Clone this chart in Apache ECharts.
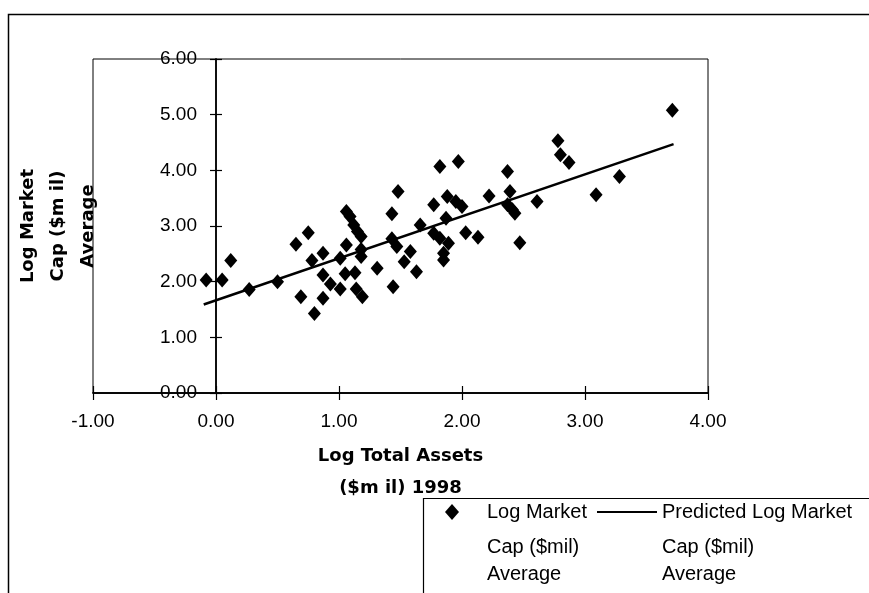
<!DOCTYPE html>
<html>
<head>
<meta charset="utf-8">
<script src="https://cdn.jsdelivr.net/npm/echarts@6/dist/echarts.min.js"></script>
<style>
html,body{margin:0;padding:0;background:#fff;}
#chart{width:869px;height:593px;}
</style>
</head>
<body>
<div id="chart"></div>
<script>
// Log Total Assets ($mil) 1998
var assetX = [-0.08,0.05,0.12,0.27,0.50,0.65,0.75,0.69,0.80,0.78,0.87,0.87,0.87,0.93,1.01,1.01,1.05,1.06,1.06,1.09,1.12,1.15,1.18,1.18,1.18,1.13,1.14,1.19,1.31,1.48,1.43,1.43,1.47,1.53,1.58,1.44,1.63,1.66,1.82,1.77,1.88,1.87,1.77,1.82,1.85,1.85,1.97,1.95,2.00,1.89,2.03,2.13,2.22,2.37,2.39,2.37,2.41,2.43,2.47,2.61,2.78,2.80,2.87,3.09,3.28,3.71];
// Log Market Cap ($mil) Average
var capY = [2.03,2.03,2.38,1.86,2.00,2.67,2.88,1.73,1.43,2.38,2.51,2.12,1.70,1.96,1.87,2.42,2.14,2.66,3.26,3.17,3.02,2.90,2.81,2.58,2.45,2.16,1.87,1.73,2.24,3.62,3.22,2.77,2.63,2.36,2.54,1.91,2.18,3.02,4.07,3.38,3.53,3.14,2.87,2.78,2.51,2.39,4.16,3.44,3.35,2.69,2.88,2.80,3.54,3.98,3.62,3.38,3.29,3.23,2.70,3.44,4.53,4.28,4.14,3.56,3.89,5.08];
// Predicted line endpoints
var predX = [-0.10, 3.72];
var predY = [1.59, 4.47];
var xTicks = [-1, 0, 1, 2, 3, 4];
var yTicks = [0, 1, 2, 3, 4, 5, 6];

var scatterName = 'Log Market Cap ($mil) Average';
var lineName = 'Predicted Log Market Cap ($mil) Average';

var scatterData = assetX.map(function (x, i) { return [x, capY[i]]; });
var lineData = predX.map(function (x, i) { return [x, predY[i]]; });

var W = 869, H = 593;
var G = {left: 93, top: 59, right: 161, bottom: 200};
var plotW = W - G.left - G.right;
var plotH = H - G.top - G.bottom;
var xMin = xTicks[0], xMax = xTicks[xTicks.length - 1];
var yMin = yTicks[0], yMax = yTicks[yTicks.length - 1];
// y axis crosses x = 0: shift it inward from the grid's left edge
var yAxisShift = plotW * (0 - xMin) / (xMax - xMin);

var FONT = '"Liberation Sans", Arial, sans-serif';
var BOLD = '"DejaVu Sans", sans-serif';
var fmt = function (v) { return v.toFixed(2); };
var tickStyle = {color: '#000', width: 1.2};
var lineSt = {color: '#000', width: 1.5};

var chart = echarts.init(document.getElementById('chart'), null, {renderer: 'canvas', width: W, height: H});
chart.setOption({
  backgroundColor: '#fff',
  animation: false,
  grid: {left: G.left, top: G.top, right: G.right, bottom: G.bottom, containLabel: false, outerBoundsMode: 'none',
         show: true, borderColor: '#000', borderWidth: 1, backgroundColor: 'transparent'},
  xAxis: [{
    type: 'value', min: xMin, max: xMax, interval: 1, position: 'bottom',
    axisLine: {onZero: false, lineStyle: lineSt},
    axisTick: {show: true, length: 7, lineStyle: tickStyle},
    axisLabel: {formatter: fmt, color: '#000', fontFamily: FONT, fontSize: 19, margin: 19},
    splitLine: {show: false},
    name: 'Log Total Assets\n($m il) 1998', nameLocation: 'middle', nameGap: 47,
    nameTextStyle: {fontFamily: BOLD, fontWeight: 'bold', fontSize: 18, color: '#000', lineHeight: 32}
  }, {
    type: 'value', min: xMin, max: xMax, interval: 1, position: 'top', offset: -plotH,
    axisLine: {show: true, onZero: false, lineStyle: lineSt},
    axisTick: {show: true, length: 7, lineStyle: tickStyle},
    axisLabel: {show: false}, splitLine: {show: false}
  }],
  yAxis: [{
    type: 'value', min: yMin, max: yMax, interval: 1, position: 'left', offset: -yAxisShift,
    axisLine: {onZero: false, lineStyle: lineSt},
    axisTick: {show: true, length: 6, lineStyle: tickStyle},
    axisLabel: {formatter: fmt, color: '#000', fontFamily: FONT, fontSize: 19, margin: 19},
    splitLine: {show: false},
    name: 'Log Market\nCap ($m il)\nAverage', nameLocation: 'middle', nameRotate: 90, nameGap: 113,
    nameTextStyle: {fontFamily: BOLD, fontWeight: 'bold', fontSize: 18, color: '#000', lineHeight: 30}
  }, {
    type: 'value', min: yMin, max: yMax, interval: 1, position: 'right', offset: -(plotW - yAxisShift),
    axisLine: {show: true, onZero: false, lineStyle: lineSt},
    axisTick: {show: true, length: 6, lineStyle: tickStyle},
    axisLabel: {show: false}, splitLine: {show: false}
  }],
  legend: [{
    data: [scatterName], left: 445, top: 500, padding: 0,
    icon: 'diamond', itemWidth: 14, itemHeight: 16,
    formatter: function () { return 'Log Market'; },
    textStyle: {fontFamily: FONT, fontSize: 20, color: '#000', lineHeight: 24, padding: [0, 0, 0, 23]}
  }, {
    data: [lineName], left: 597, top: 500, padding: 0,
    icon: 'rect', itemWidth: 60, itemHeight: 2,
    formatter: function () { return 'Predicted Log Market'; },
    textStyle: {fontFamily: FONT, fontSize: 20, color: '#000', lineHeight: 24, padding: [0, 0, 0, 0]}
  }],
  graphic: [
    {type: 'rect', left: 6, top: 12, shape: {width: 900, height: 620}, style: {fill: 'none', stroke: '#000', lineWidth: 1.5}, silent: true, z: -1},
    {type: 'rect', left: 421, top: 496, shape: {width: 470, height: 96}, style: {fill: 'none', stroke: '#000', lineWidth: 1.2}, silent: true, z: -1},
    {type: 'text', left: 487, top: 534, style: {text: 'Cap ($mil)\nAverage', font: '20px "Liberation Sans", Arial, sans-serif', fill: '#000', lineHeight: 27}},
    {type: 'text', left: 662, top: 534, style: {text: 'Cap ($mil)\nAverage', font: '20px "Liberation Sans", Arial, sans-serif', fill: '#000', lineHeight: 27}}
  ],
  series: [{
    name: scatterName, type: 'scatter', xAxisIndex: 0, yAxisIndex: 0,
    symbol: 'diamond', symbolSize: [13, 15],
    itemStyle: {color: '#000', opacity: 1},
    data: scatterData, z: 3
  }, {
    name: lineName, type: 'line', xAxisIndex: 0, yAxisIndex: 0,
    symbol: 'none', color: '#000',
    lineStyle: {color: '#000', width: 2.5},
    itemStyle: {color: '#000'},
    data: lineData, z: 4
  }]
});
</script>
</body>
</html>
